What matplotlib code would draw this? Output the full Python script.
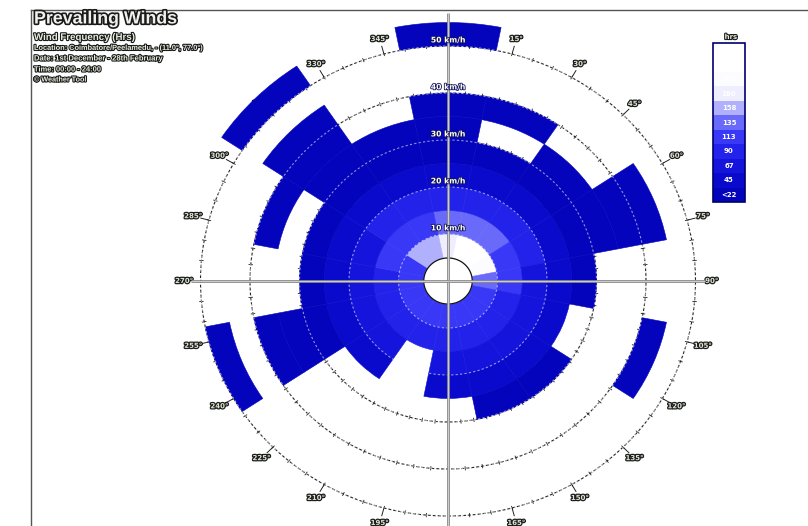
import numpy as np
import matplotlib
matplotlib.use("Agg")
import matplotlib.pyplot as plt
import matplotlib.patheffects as pe
from matplotlib.colors import ListedColormap, BoundaryNorm
from matplotlib.cm import ScalarMappable
from matplotlib.lines import Line2D

# 16 compass sectors, clockwise from north
directions = ["N", "NNE", "NE", "ENE", "E", "ESE", "SE", "SSE",
              "S", "SSW", "SW", "WSW", "W", "WNW", "NW", "NNW"]
speed_edges = [5, 10, 15, 20, 25, 30, 35, 40, 45, 50, 55]  # km/h

# hours per sector for each speed band (None = no hours)
hrs_05_10 = [170, 230, 215, 185, 120, 100, 95, 95, 95, 95, 100, 100, 100, 110, 140, 150]
hrs_10_15 = [120, 130, 120, 100, 95, 85, 80, 80, 80, 75, 80, 85, 85, 90, 100, 105]
hrs_15_20 = [80, 80, 75, 70, 65, 60, 60, 60, 60, None, 55, 60, 65, 65, 70, 75]
hrs_20_25 = [40, 40, 38, 36, 34, 30, 32, 32, 30, None, 28, 32, 34, 34, 36, 38]
hrs_25_30 = [20, 18, 18, 20, 16, None, 15, 15, None, None, None, 18, 16, 15, 20, 20]
hrs_30_35 = [14, None, 12, 14, None, None, None, None, None, None, None, 12, None, None, 14, 12]
hrs_35_40 = [10, 8, None, 10, None, None, None, None, None, None, None, 9, None, 8, 10, None]
hrs_40_45 = [None, None, None, 7, None, 6, None, None, None, None, None, None, None, None, 7, None]
hrs_45_50 = [None, None, None, None, None, None, None, None, None, None, None, 5, None, None, None, None]
hrs_50_55 = [4, None, None, None, None, None, None, None, None, None, None, None, None, None, 4, None]
speed_bands = [hrs_05_10, hrs_10_15, hrs_15_20, hrs_20_25, hrs_25_30,
               hrs_30_35, hrs_35_40, hrs_40_45, hrs_45_50, hrs_50_55]

legend_bounds = [0, 22.5, 45, 67.5, 90, 112.5, 135, 157.5, 180, 202.5, 225, 247.5]
legend_labels = ["<22", "45", "67", "90", "113", "135", "158", "180", "203", "225", "248"]
legend_colors = ["#0404bc", "#0a0acc", "#1414dc", "#2222ea", "#3838f6", "#6a6afa",
                 "#b0b0fc", "#eeeeff", "#fcfcff", "#ffffff", "#ffffff"]

grid_speeds = [10, 20, 30, 40, 50]
black_rings = [30, 40, 50]

cmap = ListedColormap(legend_colors)
norm = BoundaryNorm(legend_bounds, cmap.N)

fig = plt.figure(figsize=(8.08, 5.26), dpi=100)

# elliptical polar frame centred at (448, 281) px
rmax = 57
sx, sy = 4.95, 4.70
w_px, h_px = 2 * rmax * sx, 2 * rmax * sy
ax = fig.add_axes([(448 - w_px / 2) / 808, (526 - 281 - h_px / 2) / 526,
                   w_px / 808, h_px / 526], projection="polar")
ax.set_aspect("auto")
ax.set_theta_zero_location("N")
ax.set_theta_direction(-1)
ax.set_ylim(0, rmax)
ax.axis("off")

sector = np.deg2rad(22.5)
thetas = np.deg2rad(np.arange(len(directions)) * 22.5)

for k, band in enumerate(speed_bands):
    r0 = speed_edges[k]
    dr = speed_edges[k + 1] - r0
    for th, v in zip(thetas, band):
        if v is None:
            continue
        c = cmap(norm(v))
        ax.bar(th, dr, width=sector, bottom=r0, color=c, edgecolor=c,
               linewidth=0.4, zorder=2)

# dotted black rings with tick marks
circ = np.linspace(0, 2 * np.pi, 721)
tick_ang = np.deg2rad(np.arange(0, 360, 5))
for r in black_rings:
    ax.plot(circ, np.full_like(circ, r), color="#222222", lw=0.8,
            ls=(0, (3, 1.5)), zorder=1)
    ax.vlines(tick_ang, r - 0.45, r + 0.45, color="#222222", lw=0.6, zorder=1)

# degree labels on the outer ring
lab_ang = np.arange(0, 360, 15)
ax.vlines(np.deg2rad(lab_ang), 50, 51.8, color="#222222", lw=0.7, zorder=1)
for a in lab_ang:
    ax.text(np.deg2rad(a), 53.3, f"{a}°", fontsize=5, fontweight="bold",
            color="#dfe8d4", ha="center", va="center", zorder=1.5,
            path_effects=[pe.withStroke(linewidth=1.8, foreground="#1e1e1e")])

# light dashed speed rings over the coloured cells
for r in grid_speeds:
    ax.plot(circ, np.full_like(circ, r), color="white", alpha=0.55, lw=0.8,
            ls=(0, (2, 2)), zorder=3)

# calm circle outline
ax.plot(circ, np.full_like(circ, 4.9), color="#111111", lw=0.9, zorder=4)

# cross hairs
for a, rr in [(0, 57), (180, 57), (90, 52), (270, 52)]:
    ax.plot([np.deg2rad(a)] * 2, [0, rr], color="#8a8a8a", lw=2.0, zorder=4,
            solid_capstyle="butt")
    ax.plot([np.deg2rad(a)] * 2, [0, rr], color="#dadada", lw=0.6, zorder=4,
            solid_capstyle="butt")

for r in grid_speeds:
    ax.text(0, r + 1.3, f"{r} km/h", fontsize=5.5, fontweight="bold", color="white",
            ha="center", va="center", zorder=5,
            path_effects=[pe.withStroke(linewidth=1.2, foreground="#14145a")])

# header
halo = [pe.withStroke(linewidth=1.6, foreground="#1a1a1a")]
fig.text(34 / 808, 1 - 19 / 526, "Prevailing Winds", fontsize=12.8, fontweight="bold",
         family="Liberation Sans", color="#eef2ea", va="center",
         path_effects=[pe.withStroke(linewidth=2.4, foreground="#1a1a1a")])
header_lines = [
    ("Wind Frequency (Hrs)", 37, 7),
    ("Location: Coimbatore/Peelamedu, - (11.0°, 77.0°)", 48, 5.3),
    ("Date: 1st December - 28th February", 59, 5.5),
    ("Time: 00:00 - 24:00", 70, 5.4),
    ("© Weather Tool", 80, 5.2),
]
for txt, y, fs in header_lines:
    fig.text(34 / 808, 1 - y / 526, txt, fontsize=fs, fontweight="bold",
             family="Liberation Sans", color="#e6eedc", va="center",
             path_effects=halo)

# frame lines along top and left
fig.add_artist(Line2D([31 / 808, 1], [1 - 10 / 526] * 2, color="#555555", lw=1))
fig.add_artist(Line2D([31 / 808] * 2, [0, 1 - 10 / 526], color="#555555", lw=1))

# hours legend
cax = fig.add_axes([713 / 808, 1 - 202 / 526, 32 / 808, 159 / 526])
cb = fig.colorbar(ScalarMappable(norm=norm, cmap=cmap), cax=cax, spacing="uniform")
cb.set_ticks([])
cax.minorticks_off()
cax.tick_params(which="both", length=0, labelright=False, labelleft=False)
cb.outline.set_edgecolor("#00006e")
cb.outline.set_linewidth(1.2)
for i, lab in enumerate(legend_labels):
    cax.text(0.5, (i + 0.5) / len(legend_labels), lab, transform=cax.transAxes,
             fontsize=5, fontweight="bold", color="white", ha="center", va="center")
fig.text(731 / 808, 1 - 37 / 526, "hrs", fontsize=5, fontweight="bold",
         color="#e6eedc", ha="center", va="center", path_effects=halo)

fig.savefig("out.png", dpi=100)
